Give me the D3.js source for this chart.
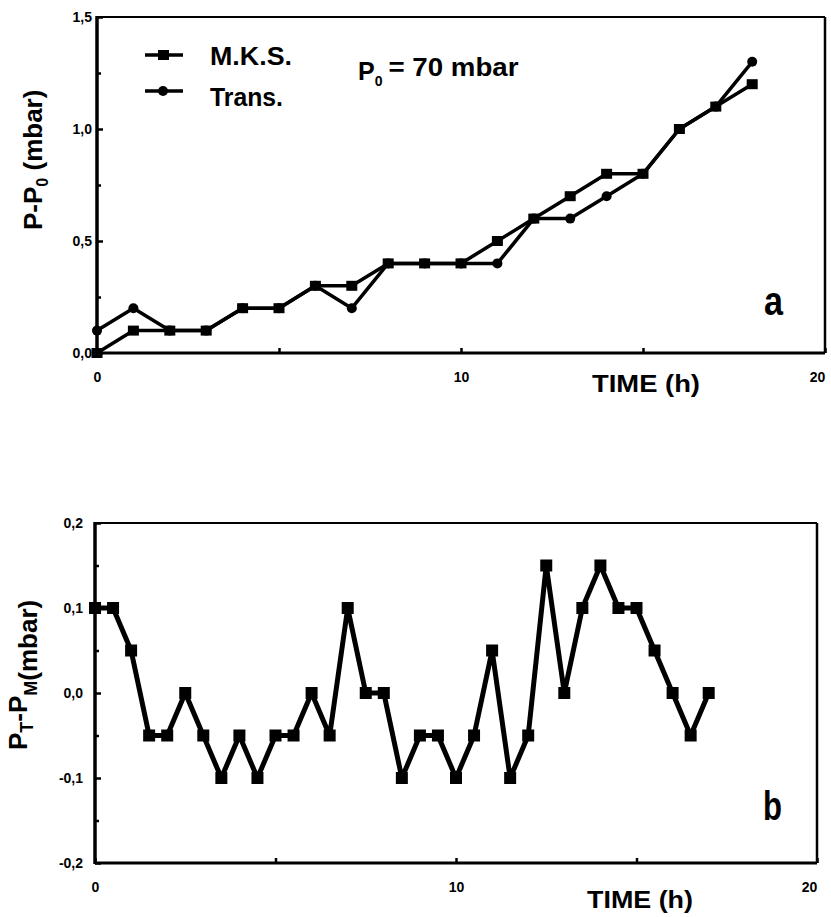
<!DOCTYPE html>
<html><head><meta charset="utf-8">
<script src="https://cdn.jsdelivr.net/npm/d3@7"></script>
<style>body{margin:0;background:#fff}text{font-family:"Liberation Sans",Arial,sans-serif;fill:#000}</style>
</head><body><svg id="c" width="831" height="917"></svg>
<script>
// ---- data: panel a ----
const hoursA = [0,1,2,3,4,5,6,7,8,9,10,11,12,13,14,15,16,17,18];
const mks    = [0.0,0.1,0.1,0.1,0.2,0.2,0.3,0.3,0.4,0.4,0.4,0.5,0.6,0.7,0.8,0.8,1.0,1.1,1.2];
const trans  = [0.1,0.2,0.1,0.1,0.2,0.2,0.3,0.2,0.4,0.4,0.4,0.4,0.6,0.6,0.7,0.8,1.0,1.1,1.3];
// ---- data: panel b ----
const hoursB = [0,0.5,1,1.5,2,2.5,3,3.5,4,4.5,5,5.5,6,6.5,7,7.5,8,8.5,9,9.5,10,10.5,11,11.5,12,12.5,13,13.5,14,14.5,15,15.5,16,16.5,17];
const diff   = [0.1,0.1,0.05,-0.05,-0.05,0.0,-0.05,-0.1,-0.05,-0.1,-0.05,-0.05,0.0,-0.05,0.1,0.0,0.0,-0.1,-0.05,-0.05,-0.1,-0.05,0.05,-0.1,-0.05,0.15,0.0,0.1,0.15,0.1,0.1,0.05,0.0,-0.05,0.0];
// ---- ticks ----
const xTickLabels = [0,10,20];
const xTicksAll = [0,5,10,15,20];
const yTicksA = [0,0.5,1.0,1.5];
const yMinorA = [0.25,0.75,1.25];
const yTicksB = [-0.2,-0.1,0,0.1,0.2];
const yMinorB = [-0.15,-0.05,0.05,0.15];

const svg = d3.select("#c");
const fmt = d => d3.format(".1f")(d).replace(".", ",").replace("\u2212","-");

function frame(x, y, g) {
  const [x0,x1] = x.range(), [y0,y1] = y.range(); // y0 bottom, y1 top
  g.append("line").attr("x1",x0).attr("x2",x1).attr("y1",y1).attr("y2",y1).attr("stroke","#000").attr("stroke-width",2);
  g.append("line").attr("x1",x1).attr("x2",x1).attr("y1",y1).attr("y2",y0).attr("stroke","#000").attr("stroke-width",2.5);
  g.append("line").attr("x1",x0).attr("x2",x1).attr("y1",y0).attr("y2",y0).attr("stroke","#000").attr("stroke-width",3);
  g.append("line").attr("x1",x0).attr("x2",x0).attr("y1",y1-1).attr("y2",y0+1).attr("stroke","#000").attr("stroke-width",3.5);
}

function axes(g, x, y, yMajor, yMinor, yPad, xLabY) {
  const [x0] = x.range(), [y0] = y.range();
  const ya = g.append("g").attr("transform",`translate(${x0},0)`)
    .call(d3.axisLeft(y).tickValues(yMajor).tickSize(-6).tickPadding(yPad).tickFormat(fmt));
  const ym = g.append("g").attr("transform",`translate(${x0},0)`)
    .call(d3.axisLeft(y).tickValues(yMinor).tickSize(-4).tickFormat(""));
  const xa = g.append("g").attr("transform",`translate(0,${y0})`)
    .call(d3.axisBottom(x).tickValues(xTicksAll).tickSize(-5).tickFormat(""));
  const xl = g.append("g").attr("transform",`translate(0,${xLabY})`)
    .call(d3.axisBottom(x).tickValues(xTickLabels).tickSize(0).tickPadding(0).tickFormat(d3.format("d")));
  [ya,ym,xa,xl].forEach(a => { a.select(".domain").remove(); a.selectAll("line").attr("stroke","#000").attr("stroke-width",2.5); });
  [ya,xl].forEach(a => { a.attr("font-size",null).attr("font-family",null);
    a.selectAll("text").attr("font-family","'Liberation Sans',Arial,sans-serif").attr("font-size",14).attr("font-weight","bold").attr("fill","#000"); });
  xl.selectAll("text").attr("dy",null).attr("y",0).attr("x", d => d === 20 ? -8 : 0);
}

// ================= Panel a =================
const xA = d3.scaleLinear().domain([0,20]).range([97,825]);
const yA = d3.scaleLinear().domain([0,1.5]).range([353,17]);
const gA = svg.append("g");
frame(xA, yA, gA);
axes(gA, xA, yA, yTicksA, yMinorA, 5, 382);

const lineA = d3.line().x((d,i)=>xA(hoursA[i])).y(d=>yA(d));
gA.append("path").datum(trans).attr("d",lineA).attr("fill","none").attr("stroke","#000").attr("stroke-width",3.5).attr("stroke-linejoin","round");
gA.append("path").datum(mks).attr("d",lineA).attr("fill","none").attr("stroke","#000").attr("stroke-width",3.5).attr("stroke-linejoin","round");
gA.selectAll("rect.m").data(mks).join("rect").attr("class","m")
  .attr("x",(d,i)=>xA(hoursA[i])-5.5).attr("y",d=>yA(d)-5).attr("width",11).attr("height",10).attr("fill","#000");
gA.selectAll("circle.t").data(trans).join("circle").attr("class","t")
  .attr("cx",(d,i)=>xA(hoursA[i])).attr("cy",d=>yA(d)).attr("r",5).attr("fill","#000");

// legend
const lg = gA.append("g");
lg.append("line").attr("x1",145).attr("x2",183).attr("y1",55).attr("y2",55).attr("stroke","#000").attr("stroke-width",3.5);
lg.append("rect").attr("x",158).attr("y",50).attr("width",11).attr("height",10).attr("fill","#000");
lg.append("line").attr("x1",145).attr("x2",183).attr("y1",91).attr("y2",91).attr("stroke","#000").attr("stroke-width",3.5);
lg.append("circle").attr("cx",163).attr("cy",91).attr("r",5).attr("fill","#000");
lg.append("text").attr("x",210).attr("y",65).attr("font-size",25).attr("font-weight","bold").attr("textLength",82).attr("lengthAdjust","spacingAndGlyphs").text("M.K.S.");
lg.append("text").attr("x",210).attr("y",106).attr("font-size",25).attr("font-weight","bold").attr("textLength",73).attr("lengthAdjust","spacingAndGlyphs").text("Trans.");
const p0 = lg.append("text").attr("x",358).attr("y",80).attr("font-size",25).attr("font-weight","bold");
p0.append("tspan").text("P");
p0.append("tspan").attr("font-size",14).attr("dy",6).text("0");
p0.append("tspan").attr("dx",6).attr("dy",-10).attr("font-size",26).attr("textLength",130).attr("lengthAdjust","spacingAndGlyphs").text("= 70 mbar");

gA.append("text").attr("x",764).attr("y",315).attr("font-size",40).attr("font-weight","bold").attr("textLength",19).attr("lengthAdjust","spacingAndGlyphs").text("a");
gA.append("text").attr("x",592).attr("y",392).attr("font-size",23).attr("font-weight","bold").attr("textLength",108).attr("lengthAdjust","spacingAndGlyphs").text("TIME (h)");

const ylA = gA.append("text").attr("transform","translate(42,230) rotate(-90)").attr("font-size",26).attr("font-weight","bold");
ylA.append("tspan").text("P-P");
ylA.append("tspan").attr("font-size",16).attr("dy",6).text("0");
ylA.append("tspan").attr("dy",-6).text(" (mbar)");

// ================= Panel b =================
const xB = d3.scaleLinear().domain([0,20]).range([95,817]);
const yB = d3.scaleLinear().domain([-0.2,0.2]).range([863,523]);
const gB = svg.append("g");
frame(xB, yB, gB);
axes(gB, xB, yB, yTicksB, yMinorB, 12, 892);

const lineB = d3.line().x((d,i)=>xB(hoursB[i])).y(d=>yB(d));
gB.append("path").datum(diff).attr("d",lineB).attr("fill","none").attr("stroke","#000").attr("stroke-width",5).attr("stroke-linejoin","round");
gB.selectAll("rect.d").data(diff).join("rect").attr("class","d")
  .attr("x",(d,i)=>xB(hoursB[i])-6).attr("y",d=>yB(d)-6).attr("width",12).attr("height",12).attr("fill","#000");

gB.append("text").attr("x",763).attr("y",820).attr("font-size",40).attr("font-weight","bold").attr("textLength",19).attr("lengthAdjust","spacingAndGlyphs").text("b");
gB.append("text").attr("x",587).attr("y",908).attr("font-size",23).attr("font-weight","bold").attr("textLength",106).attr("lengthAdjust","spacingAndGlyphs").text("TIME (h)");

const ylB = gB.append("text").attr("transform","translate(27,750) rotate(-90)").attr("font-size",26).attr("font-weight","bold");
ylB.append("tspan").text("P");
ylB.append("tspan").attr("font-size",18).attr("dy",6).text("T");
ylB.append("tspan").attr("dy",-6).text("-P");
ylB.append("tspan").attr("font-size",18).attr("dy",10).text("M");
ylB.append("tspan").text("(mbar)");
</script></body></html>
